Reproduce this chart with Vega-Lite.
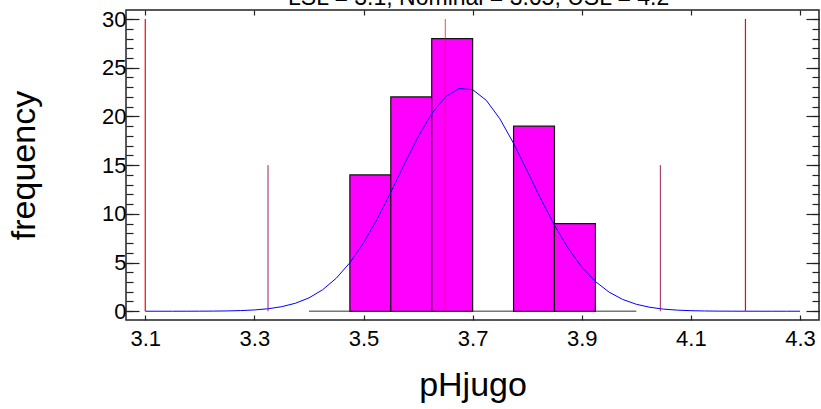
{
  "$schema": "https://vega.github.io/schema/vega-lite/v6.json",
  "width": 693,
  "height": 310,
  "autosize": {"type": "none"},
  "padding": {"left": 126, "top": 10, "right": 2, "bottom": 89},
  "background": "white",
  "config": {
    "view": {"stroke": "#222", "strokeWidth": 1.5},
    "axis": {
      "domain": false,
      "grid": false,
      "tickColor": "#222",
      "tickWidth": 1.2,
      "labelFont": "Liberation Sans",
      "labelFontSize": 22,
      "labelColor": "black",
      "titleFont": "Liberation Sans",
      "titleFontSize": 34,
      "titleFontWeight": "normal",
      "titleColor": "black",
      "zindex": 1
    }
  },
  "datasets": {
    "bins": [
      {"lo": 3.475, "hi": 3.55, "count": 14},
      {"lo": 3.55, "hi": 3.625, "count": 22},
      {"lo": 3.625, "hi": 3.7, "count": 28},
      {"lo": 3.775, "hi": 3.85, "count": 19},
      {"lo": 3.85, "hi": 3.925, "count": 9}
    ],
    "base": [{"lo": 3.4, "hi": 4.0, "y": 0}],
    "curve": [
      {"x": 3.1, "f": 0.0002}, {"x": 3.125, "f": 0.0004}, {"x": 3.15, "f": 0.0011}, {"x": 3.175, "f": 0.0027},
      {"x": 3.2, "f": 0.0065}, {"x": 3.225, "f": 0.0147}, {"x": 3.25, "f": 0.032}, {"x": 3.275, "f": 0.067},
      {"x": 3.3, "f": 0.133}, {"x": 3.325, "f": 0.255}, {"x": 3.35, "f": 0.466}, {"x": 3.375, "f": 0.817},
      {"x": 3.4, "f": 1.37}, {"x": 3.425, "f": 2.202}, {"x": 3.45, "f": 3.384}, {"x": 3.475, "f": 4.978},
      {"x": 3.5, "f": 7.015}, {"x": 3.525, "f": 9.463}, {"x": 3.55, "f": 12.22}, {"x": 3.575, "f": 15.12},
      {"x": 3.6, "f": 17.9}, {"x": 3.625, "f": 20.29}, {"x": 3.65, "f": 22.01}, {"x": 3.675, "f": 22.87},
      {"x": 3.7, "f": 22.75}, {"x": 3.725, "f": 21.66}, {"x": 3.75, "f": 19.75}, {"x": 3.775, "f": 17.24},
      {"x": 3.8, "f": 14.4}, {"x": 3.825, "f": 11.52}, {"x": 3.85, "f": 8.825}, {"x": 3.875, "f": 6.472},
      {"x": 3.9, "f": 4.542}, {"x": 3.925, "f": 3.053}, {"x": 3.95, "f": 1.965}, {"x": 3.975, "f": 1.211},
      {"x": 4.0, "f": 0.714}, {"x": 4.025, "f": 0.403}, {"x": 4.05, "f": 0.218}, {"x": 4.075, "f": 0.113},
      {"x": 4.1, "f": 0.056}, {"x": 4.125, "f": 0.027}, {"x": 4.15, "f": 0.012}, {"x": 4.175, "f": 0.005},
      {"x": 4.2, "f": 0.002}, {"x": 4.225, "f": 0.001}, {"x": 4.25, "f": 0.0004}, {"x": 4.275, "f": 0.0002},
      {"x": 4.3, "f": 0.0001}
    ],
    "limits": [
      {"x": 3.1, "y0": 0, "y1": 30, "name": "LSL"},
      {"x": 4.2, "y0": 0, "y1": 30, "name": "USL"}
    ],
    "nominal": [{"x": 3.65, "y0": 0, "y1": 30, "name": "Nominal"}],
    "sigma": [
      {"x": 3.325, "y0": 0, "y1": 15, "name": "-3 sigma"},
      {"x": 4.044, "y0": 0, "y1": 15, "name": "+3 sigma"}
    ],
    "heading": [{"text": "LSL = 3.1, Nominal = 3.65, USL = 4.2"}]
  },
  "layer": [
    {
      "data": {"name": "base"},
      "mark": {"type": "rule", "color": "#777", "strokeWidth": 1.5},
      "encoding": {
        "x": {"field": "lo", "type": "quantitative",
              "scale": {"domain": [3.0647, 4.3348], "nice": false, "zero": false},
              "axis": {"orient": "top", "values": [3.1, 3.3, 3.5, 3.7, 3.9, 4.1, 4.3], "labels": false, "tickSize": -5, "title": null}},
        "x2": {"field": "hi"},
        "y": {"field": "y", "type": "quantitative",
              "scale": {"domain": [-0.9, 30.93], "nice": false, "zero": false},
              "axis": {"orient": "left", "values": [0,1,2,3,4,5,6,7,8,9,10,11,12,13,14,15,16,17,18,19,20,21,22,23,24,25,26,27,28,29,30], "labels": false, "tickSize": -7, "title": null}}
      }
    },
    {
      "data": {"name": "bins"},
      "mark": {"type": "rect", "fill": "#ff00ff", "stroke": "#111", "strokeWidth": 1.2},
      "encoding": {
        "x": {"field": "lo", "type": "quantitative",
              "axis": {"orient": "bottom", "values": [3.1, 3.3, 3.5, 3.7, 3.9, 4.1, 4.3], "format": ".1f", "tickSize": -5, "labelPadding": 13, "title": "pHjugo", "titlePadding": 19}},
        "x2": {"field": "hi"},
        "y": {"field": "count", "type": "quantitative",
              "axis": {"orient": "left", "values": [0, 5, 10, 15, 20, 25, 30], "tickSize": -13, "labelPadding": 13, "title": "frequency", "titlePadding": 60}},
        "y2": {"datum": 0}
      }
    },
    {
      "data": {"name": "curve"},
      "mark": {"type": "line", "color": "#0000ff", "strokeWidth": 1},
      "encoding": {
        "x": {"field": "x", "type": "quantitative", "axis": null},
        "y": {"field": "f", "type": "quantitative",
              "axis": {"orient": "right", "values": [0, 5, 10, 15, 20, 25, 30], "labels": false, "tickSize": -13, "title": null}}
      }
    },
    {
      "data": {"name": "limits"},
      "mark": {"type": "rule", "color": "#ff0000", "strokeWidth": 1.2},
      "encoding": {
        "x": {"field": "x", "type": "quantitative", "axis": null},
        "y": {"field": "y0", "type": "quantitative",
              "axis": {"orient": "right", "values": [0,1,2,3,4,5,6,7,8,9,10,11,12,13,14,15,16,17,18,19,20,21,22,23,24,25,26,27,28,29,30], "labels": false, "tickSize": -7, "title": null}},
        "y2": {"field": "y1"}
      }
    },
    {
      "data": {"name": "sigma"},
      "mark": {"type": "rule", "color": "#a0205a", "strokeWidth": 1},
      "encoding": {
        "x": {"field": "x", "type": "quantitative", "axis": null},
        "y": {"field": "y0", "type": "quantitative", "axis": null},
        "y2": {"field": "y1"}
      }
    },
    {
      "data": {"name": "nominal"},
      "mark": {"type": "rule", "color": "#ff0000", "opacity": 0.6, "strokeWidth": 1.2},
      "encoding": {
        "x": {"field": "x", "type": "quantitative", "axis": null},
        "y": {"field": "y0", "type": "quantitative", "axis": null},
        "y2": {"field": "y1"}
      }
    },
    {
      "data": {"name": "heading"},
      "mark": {"type": "text", "font": "Liberation Sans", "fontSize": 23, "color": "black", "align": "center", "baseline": "alphabetic", "clip": false},
      "encoding": {
        "text": {"field": "text"},
        "x": {"datum": 3.711, "type": "quantitative", "axis": null},
        "y": {"datum": 31.47, "type": "quantitative", "axis": null}
      }
    }
  ],
  "resolve": {"axis": {"x": "independent", "y": "independent"}}
}
